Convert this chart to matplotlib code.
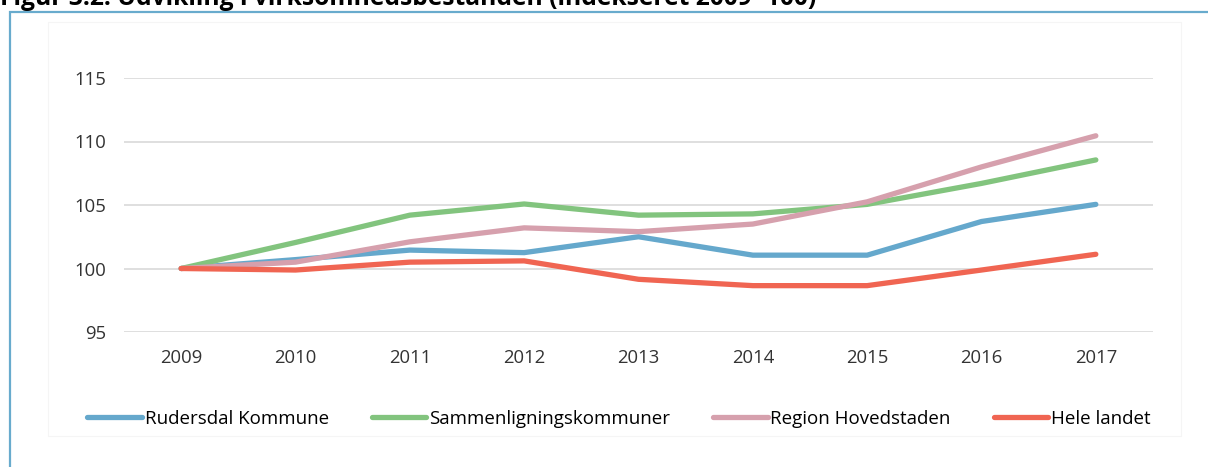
import matplotlib.pyplot as plt
from matplotlib.patches import Rectangle

plt.rcParams['font.family'] = ['Open Sans', 'DejaVu Sans']

years = [2009, 2010, 2011, 2012, 2013, 2014, 2015, 2016, 2017]
rudersdal = [100, 100.7, 101.45, 101.25, 102.5, 101.05, 101.05, 103.7, 105.05]
sammenlign = [100, 102.05, 104.2, 105.08, 104.2, 104.3, 105.05, 106.7, 108.55]
hovedstaden = [100, 100.5, 102.1, 103.2, 102.9, 103.5, 105.25, 108.0, 110.45]
hele_landet = [100, 99.88, 100.5, 100.6, 99.15, 98.65, 98.65, 99.88, 101.12]
yticks = [95, 100, 105, 110, 115]

fig = plt.figure(figsize=(12.08, 4.67), dpi=100)

# frame around figure box
fig.patches.append(Rectangle((10/1208, -0.1), 1.2, 1 - 11.5/467 + 0.1, transform=fig.transFigure,
                             fill=False, edgecolor='#68abcd', linewidth=1.6))
# faint chart area border
fig.patches.append(Rectangle((48/1208, 1 - 436/467), (1181-48)/1208, (436-22)/467, transform=fig.transFigure,
                             fill=False, edgecolor='#f5f5f5', linewidth=0.8))

# title sits partly above the picture, as in the source
fig.text(0.0, 1 - 5/467, 'Figur 3.2: Udvikling i virksomhedsbestanden (indekseret 2009=100)',
         fontsize=17.7, fontweight='bold', va='baseline', ha='left')

ax = fig.add_axes([124/1208, 1 - 332/467, (1153-124)/1208, 254/467])
ax.plot(years, rudersdal, color='#65a8cc', lw=3.8, solid_capstyle='round', label='Rudersdal Kommune')
ax.plot(years, sammenlign, color='#82c47e', lw=3.8, solid_capstyle='round', label='Sammenligningskommuner')
ax.plot(years, hovedstaden, color='#d6a0ad', lw=3.8, solid_capstyle='round', label='Region Hovedstaden')
ax.plot(years, hele_landet, color='#f06552', lw=3.8, solid_capstyle='round', label='Hele landet')

ax.set_xlim(2008.5, 2017.5)
ax.set_ylim(95, 115)
ax.set_yticks(yticks)
ax.set_xticks(years)
ax.grid(axis='y', color='#d9d9d9', lw=1.2)
ax.set_axisbelow(True)
for s in ax.spines.values():
    s.set_visible(False)
ax.tick_params(axis='y', length=0, pad=13, labelsize=13.3, labelcolor='#333333')
ax.tick_params(axis='x', length=0, pad=12, labelsize=13.3, labelcolor='#333333')

fig.legend(loc='center', bbox_to_anchor=(619/1208, 1 - 419/467), ncol=4, frameon=False, fontsize=13.5,
           handlelength=2.9, handletextpad=0.15, columnspacing=2.3)

fig.savefig('out.png', dpi=100)
